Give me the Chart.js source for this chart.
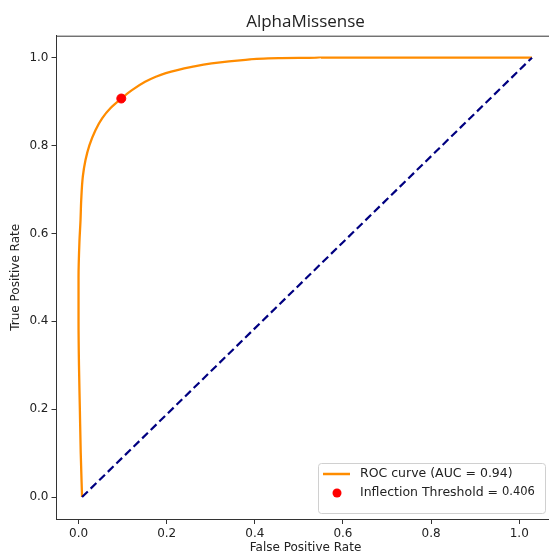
<!DOCTYPE html>
<html>
<head>
<meta charset="utf-8">
<script src="https://cdn.jsdelivr.net/npm/chart.js@4.4.1/dist/chart.umd.min.js"></script>
<style>
  html, body { margin: 0; padding: 0; background: #fff; overflow: hidden; }
  canvas { display: block; }
</style>
</head>
<body>
<canvas id="canvas" width="560" height="556"></canvas>
<script>
// ROC curve (tpr rises monotonically)
const rocFpr = [0.008, 0.005, 0.003, 0.001, 0.0, 0.0, 0.002, 0.0045, 0.0061, 0.0097, 0.0158, 0.0248, 0.0384, 0.0535, 0.0722, 0.0971, 0.1212, 0.151, 0.174, 0.198, 0.257, 0.302, 0.379, 0.454, 0.55, 0.7, 0.85, 1.029]
const rocTpr = [0.0, 0.1, 0.2, 0.3, 0.4, 0.5, 0.58, 0.63, 0.676, 0.729, 0.767, 0.801, 0.835, 0.862, 0.885, 0.907, 0.926, 0.945, 0.956, 0.965, 0.979, 0.987, 0.995, 0.999, 1.0, 1.0, 1.0, 1.0]

const diagFpr = [0.008, 1.029]
const diagTpr = [0.0, 1.0]

const inflectionFpr = [0.097]
const inflectionTpr = [0.907]
const thresholdValue = '0.406'

const xTicks = [0.0, 0.2, 0.4, 0.6, 0.8, 1.0]
const yTicks = [0.0, 0.2, 0.4, 0.6, 0.8, 1.0]

const toPoints = (xs, ys) => xs.map((x, i) => ({ x: x, y: ys[i] }))

const axisColor = '#333'
const textColor = '#222'
const tickFont = { family: 'DejaVu Sans', size: 12 }

// top frame line + legend inside the plot (matplotlib style)
const framePlugin = {
    id: 'frame',
    afterDraw(chart) {
        const { ctx, chartArea } = chart
        ctx.save()
        ctx.strokeStyle = axisColor
        ctx.lineWidth = 1
        ctx.beginPath()
        ctx.moveTo(chartArea.left, chartArea.top + 0.5)
        ctx.lineTo(chartArea.right, chartArea.top + 0.5)
        ctx.stroke()

        // legend box
        const bx = 318, by = 463, bw = 227, bh = 50
        ctx.fillStyle = 'rgba(255,255,255,0.85)'
        ctx.strokeStyle = '#d0d0d0'
        ctx.beginPath()
        ctx.roundRect(bx + 0.5, by + 0.5, bw, bh, 3)
        ctx.fill()
        ctx.stroke()

        const roc = chart.data.datasets[1]
        const dot = chart.data.datasets[0]
        ctx.font = '12.5px "DejaVu Sans"'
        ctx.textBaseline = 'middle'
        ctx.fillStyle = textColor

        ctx.strokeStyle = roc.borderColor
        ctx.lineWidth = 2.5
        ctx.beginPath()
        ctx.moveTo(323, 474)
        ctx.lineTo(350, 474)
        ctx.stroke()
        ctx.fillText(roc.label, 360, 474)

        ctx.fillStyle = dot.backgroundColor
        ctx.beginPath()
        ctx.arc(337, 493, 4.5, 0, Math.PI * 2)
        ctx.fill()
        ctx.fillStyle = textColor
        ctx.fillText(dot.label, 360, 493)
        const w = ctx.measureText(dot.label + ' ').width
        ctx.font = '11.5px "DejaVu Sans"'
        ctx.fillText(thresholdValue, 360 + w, 492)
        ctx.restore()
    }
}

const ctx = document.getElementById('canvas')

new Chart(ctx, {
    type: 'scatter',
    data: {
        datasets: [
            {
                label: 'Inflection Threshold =',
                data: toPoints(inflectionFpr, inflectionTpr),
                backgroundColor: 'red',
                borderColor: 'red',
                pointRadius: 4.5,
                pointHoverRadius: 4.5,
                order: 0,
            },
            {
                label: 'ROC curve (AUC = 0.94)',
                data: toPoints(rocFpr, rocTpr),
                showLine: true,
                indexAxis: 'y',
                cubicInterpolationMode: 'monotone',
                borderColor: 'darkorange',
                borderWidth: 2.3,
                pointRadius: 0,
                order: 2,
            },
            {
                label: 'diagonal',
                data: toPoints(diagFpr, diagTpr),
                showLine: true,
                borderColor: 'navy',
                borderWidth: 2.2,
                borderDash: [8, 4],
                pointRadius: 0,
                order: 1,
            },
        ],
    },
    options: {
        responsive: false,
        animation: false,
        layout: { padding: { left: 0, right: 3, top: 0, bottom: 0 } },
        plugins: {
            legend: { display: false },
            tooltip: { enabled: false },
            title: {
                display: true,
                fullSize: false,
                text: 'AlphaMissense',
                color: textColor,
                font: { family: 'Open Sans', size: 17, weight: 'normal', lineHeight: 1.2 },
                padding: { top: 12, bottom: 3.3 },
            },
        },
        scales: {
            x: {
                type: 'linear',
                min: -0.05,
                max: 1.08,
                afterBuildTicks: (scale) => { scale.ticks = xTicks.map(v => ({ value: v })) },
                afterFit: (scale) => { scale.height = 37 },
                ticks: {
                    color: textColor,
                    font: tickFont,
                    padding: 3,
                    maxRotation: 0,
                    callback: (v) => v.toFixed(1),
                },
                grid: { drawOnChartArea: false, drawTicks: true, tickLength: 5, color: axisColor },
                border: { display: true, color: axisColor, width: 1 },
                title: {
                    display: true,
                    text: 'False Positive Rate',
                    color: textColor,
                    font: tickFont,
                    padding: { top: 0, bottom: 1 },
                },
            },
            y: {
                type: 'linear',
                min: -0.05,
                max: 1.05,
                afterBuildTicks: (scale) => { scale.ticks = yTicks.map(v => ({ value: v })) },
                afterFit: (scale) => { scale.width = 56.5 },
                ticks: {
                    color: textColor,
                    font: tickFont,
                    padding: 3,
                    callback: (v) => v.toFixed(1),
                },
                grid: { drawOnChartArea: false, drawTicks: true, tickLength: 5, color: axisColor },
                border: { display: true, color: axisColor, width: 1 },
                title: {
                    display: true,
                    text: 'True Positive Rate',
                    color: textColor,
                    font: tickFont,
                    padding: { top: 9, bottom: 0 },
                },
            },
        },
    },
    plugins: [framePlugin],
});
</script>
</body>
</html>
